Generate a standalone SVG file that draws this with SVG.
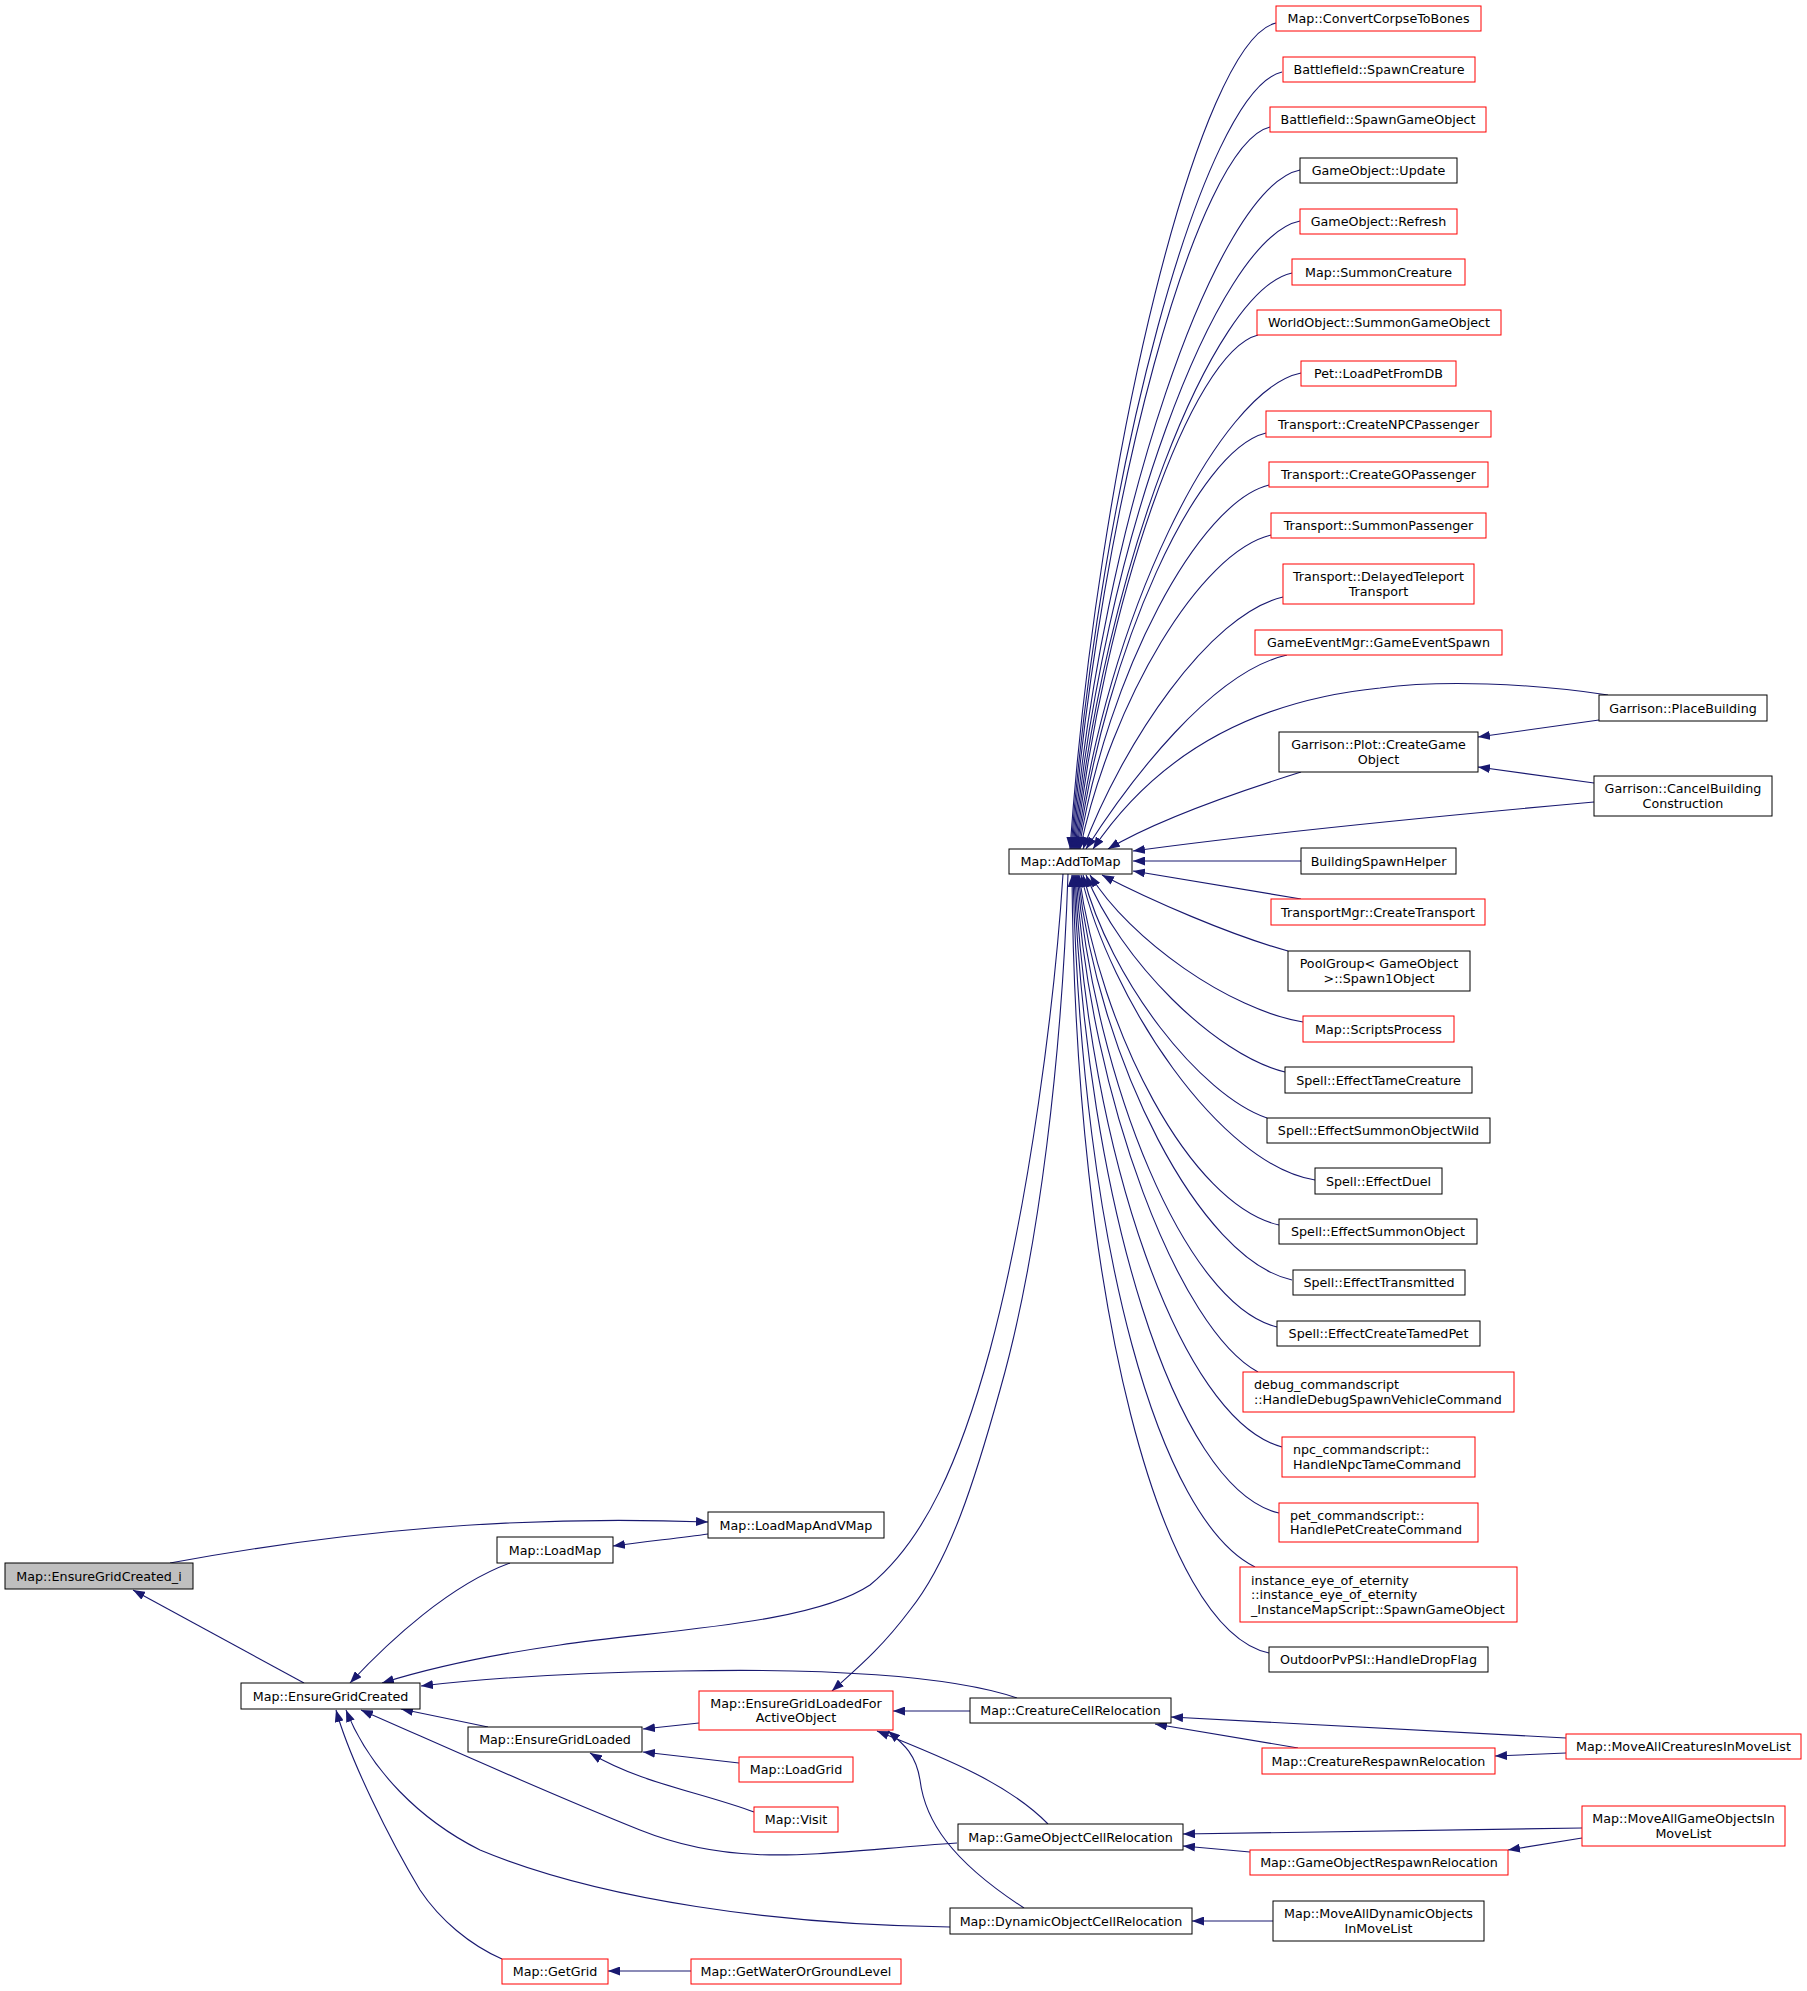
<svg xmlns="http://www.w3.org/2000/svg" width="1807" height="1991" viewBox="0 0 1807 1991">
<defs>
<style>
.n rect{fill:#fff;stroke:#000;stroke-width:1}
.n.r rect{stroke:#f00}
.n.g rect{fill:#bfbfbf}
text{font-family:"DejaVu Sans","Liberation Sans",sans-serif;font-size:12.7px;fill:#000}
.c{text-anchor:middle}
#edges path{fill:none;stroke:#191970;stroke-width:1.1;marker-end:url(#ah)}
</style>
<marker id="ah" markerUnits="userSpaceOnUse" markerWidth="12" markerHeight="9" refX="12" refY="4.5" orient="auto" viewBox="0 0 12 9"><path d="M0,0 L12,4.5 L0,9 z" fill="#191970"/></marker>
</defs>
<rect width="1807" height="1991" fill="#fff"/>
<g id="edges">
<path d="M304,1683 L133,1590"/>
<path d="M170,1563 C350,1530 520,1515 708,1522"/>
<path d="M708,1534 C680,1538 650,1541 613,1546"/>
<path d="M510,1563 C450,1585 390,1640 350,1683"/>
<path d="M1063,874 C1055,1000 1030,1200 990,1350 C960,1460 925,1540 870,1585 C810,1625 660,1630 560,1645 C490,1655 430,1668 382,1683"/>
<path d="M1017,1698 C950,1675 820,1668 680,1671 C560,1673 480,1679 421,1686"/>
<path d="M488,1727 L401,1709"/>
<path d="M957,1843 C820,1852 740,1870 640,1830 C540,1790 430,1740 361,1710"/>
<path d="M950,1927 C780,1925 600,1900 480,1850 C420,1820 370,1770 346,1710"/>
<path d="M502,1959 C470,1945 440,1920 420,1890 C390,1840 350,1760 336,1710"/>
<path d="M699,1723 L643,1729"/>
<path d="M739,1763 L643,1752"/>
<path d="M754,1812 C700,1792 640,1783 590,1753"/>
<path d="M691,1971 L608,1971"/>
<path d="M1068,874 C1062,1050 1040,1250 1000,1390 C975,1480 950,1560 910,1610 C880,1650 855,1670 832,1691"/>
<path d="M970,1711 L893,1711"/>
<path d="M1048,1824 C1010,1785 950,1760 877,1731"/>
<path d="M1024,1908 C950,1860 925,1820 920,1780 C916,1755 905,1745 888,1731"/>
<path d="M1566,1738 L1171,1717"/>
<path d="M1298,1748 L1155,1724"/>
<path d="M1566,1753 L1495,1756"/>
<path d="M1582,1828 L1183,1834"/>
<path d="M1250,1852 L1183,1846"/>
<path d="M1582,1838 L1508,1850"/>
<path d="M1273,1921 L1192,1921"/>
<path d="M1599,720 L1478,737"/>
<path d="M1594,783 L1478,767"/>
<path d="M1276,23 C1200,40 1098,453 1070,849"/>
<path d="M1282,72 C1204,89 1099,476 1071,849"/>
<path d="M1270,127 C1197,144 1100,502 1072,849"/>
<path d="M1300,170 C1216,187 1101,523 1073,849"/>
<path d="M1300,221 C1216,238 1102,548 1074,849"/>
<path d="M1292,273 C1212,290 1103,573 1075,849"/>
<path d="M1258,335 C1191,352 1104,602 1076,849"/>
<path d="M1301,373 C1218,390 1105,621 1077,849"/>
<path d="M1266,433 C1196,450 1106,649 1078,849"/>
<path d="M1269,485 C1199,502 1107,674 1079,849"/>
<path d="M1271,535 C1200,552 1112,700 1080,849"/>
<path d="M1283,597 C1209,614 1122,745 1083,849"/>
<path d="M1287,655 C1212,672 1130,780 1086,849"/>
<path d="M1608,695 C1530,683 1440,680 1380,688 C1260,700 1160,750 1093,849"/>
<path d="M1301,772 C1250,788 1160,818 1108,849"/>
<path d="M1594,802 C1450,815 1250,835 1133,851"/>
<path d="M1301,861 L1133,861"/>
<path d="M1301,899 L1133,871"/>
<path d="M1288,951 C1230,935 1150,900 1102,875"/>
<path d="M1303,1022 C1230,1010 1130,940 1090,875"/>
<path d="M1285,1072 C1215,1055 1120,960 1086,875"/>
<path d="M1267,1118 C1200,1095 1110,980 1083,875"/>
<path d="M1315,1180 C1220,1165 1110,1000 1081,875"/>
<path d="M1279,1225 C1190,1205 1100,1030 1079,875"/>
<path d="M1292,1280 C1200,1260 1098,1060 1078,875"/>
<path d="M1277,1327 C1185,1305 1095,1080 1077,875"/>
<path d="M1258,1372 C1180,1330 1090,1100 1076,875"/>
<path d="M1282,1447 C1180,1420 1088,1150 1075,875"/>
<path d="M1279,1513 C1175,1490 1086,1200 1074,875"/>
<path d="M1255,1567 C1160,1520 1082,1250 1073,875"/>
<path d="M1269,1653 C1160,1630 1075,1300 1072,875"/>
</g>
<g id="n_egci" class="n g"><rect x="5" y="1563" width="188" height="26"/><text class="c" x="99" y="1580.5">Map::EnsureGridCreated_i</text></g>
<g id="n_egc" class="n"><rect x="241" y="1683" width="179" height="26"/><text class="c" x="330.5" y="1700.5">Map::EnsureGridCreated</text></g>
<g id="n_loadmap" class="n"><rect x="497" y="1537" width="116" height="26"/><text class="c" x="555" y="1554.5">Map::LoadMap</text></g>
<g id="n_loadmapvmap" class="n"><rect x="708" y="1512" width="176" height="26"/><text class="c" x="796" y="1529.5">Map::LoadMapAndVMap</text></g>
<g id="n_addtomap" class="n"><rect x="1009" y="849" width="123" height="25"/><text class="c" x="1070.5" y="866">Map::AddToMap</text></g>
<g id="n_egl" class="n"><rect x="468" y="1727" width="174" height="25"/><text class="c" x="555" y="1744">Map::EnsureGridLoaded</text></g>
<g id="n_eglfao" class="n r"><rect x="699" y="1691" width="194" height="39"/><text class="c" x="796" y="1707.75">Map::EnsureGridLoadedFor</text><text class="c" x="796" y="1722.25">ActiveObject</text></g>
<g id="n_loadgrid" class="n r"><rect x="739" y="1757" width="114" height="25"/><text class="c" x="796" y="1774">Map::LoadGrid</text></g>
<g id="n_visit" class="n r"><rect x="754" y="1807" width="84" height="25"/><text class="c" x="796" y="1824">Map::Visit</text></g>
<g id="n_getgrid" class="n r"><rect x="502" y="1959" width="106" height="25"/><text class="c" x="555" y="1976">Map::GetGrid</text></g>
<g id="n_getwater" class="n r"><rect x="691" y="1959" width="210" height="25"/><text class="c" x="796" y="1976">Map::GetWaterOrGroundLevel</text></g>
<g id="n_ccr" class="n"><rect x="970" y="1698" width="201" height="25"/><text class="c" x="1070.5" y="1715">Map::CreatureCellRelocation</text></g>
<g id="n_gocr" class="n"><rect x="958" y="1824" width="225" height="26"/><text class="c" x="1070.5" y="1841.5">Map::GameObjectCellRelocation</text></g>
<g id="n_docr" class="n"><rect x="950" y="1908" width="242" height="26"/><text class="c" x="1071" y="1925.5">Map::DynamicObjectCellRelocation</text></g>
<g id="n_macr" class="n r"><rect x="1566" y="1734" width="235" height="25"/><text class="c" x="1683.5" y="1751">Map::MoveAllCreaturesInMoveList</text></g>
<g id="n_crr" class="n r"><rect x="1262" y="1748" width="233" height="26"/><text class="c" x="1378.5" y="1765.5">Map::CreatureRespawnRelocation</text></g>
<g id="n_mago" class="n r"><rect x="1582" y="1806" width="203" height="40"/><text class="c" x="1683.5" y="1823.25">Map::MoveAllGameObjectsIn</text><text class="c" x="1683.5" y="1837.75">MoveList</text></g>
<g id="n_gorr" class="n r"><rect x="1250" y="1850" width="258" height="25"/><text class="c" x="1379" y="1867">Map::GameObjectRespawnRelocation</text></g>
<g id="n_mado" class="n"><rect x="1273" y="1901" width="211" height="40"/><text class="c" x="1378.5" y="1918.25">Map::MoveAllDynamicObjects</text><text class="c" x="1378.5" y="1932.75">InMoveList</text></g>
<g id="n_r1" class="n r"><rect x="1276" y="6" width="205" height="25"/><text class="c" x="1378.5" y="23">Map::ConvertCorpseToBones</text></g>
<g id="n_r2" class="n r"><rect x="1283" y="57" width="192" height="25"/><text class="c" x="1379" y="74">Battlefield::SpawnCreature</text></g>
<g id="n_r3" class="n r"><rect x="1270" y="107" width="216" height="25"/><text class="c" x="1378" y="124">Battlefield::SpawnGameObject</text></g>
<g id="n_r4" class="n"><rect x="1300" y="158" width="157" height="25"/><text class="c" x="1378.5" y="175">GameObject::Update</text></g>
<g id="n_r5" class="n r"><rect x="1300" y="209" width="157" height="25"/><text class="c" x="1378.5" y="226">GameObject::Refresh</text></g>
<g id="n_r6" class="n r"><rect x="1292" y="259" width="173" height="26"/><text class="c" x="1378.5" y="276.5">Map::SummonCreature</text></g>
<g id="n_r7" class="n r"><rect x="1257" y="310" width="244" height="25"/><text class="c" x="1379" y="327">WorldObject::SummonGameObject</text></g>
<g id="n_r8" class="n r"><rect x="1301" y="361" width="155" height="25"/><text class="c" x="1378.5" y="378">Pet::LoadPetFromDB</text></g>
<g id="n_r9" class="n r"><rect x="1266" y="411" width="225" height="26"/><text class="c" x="1378.5" y="428.5">Transport::CreateNPCPassenger</text></g>
<g id="n_r10" class="n r"><rect x="1269" y="462" width="219" height="25"/><text class="c" x="1378.5" y="479">Transport::CreateGOPassenger</text></g>
<g id="n_r11" class="n r"><rect x="1271" y="513" width="215" height="25"/><text class="c" x="1378.5" y="530">Transport::SummonPassenger</text></g>
<g id="n_r12" class="n r"><rect x="1283" y="564" width="191" height="40"/><text class="c" x="1378.5" y="581.25">Transport::DelayedTeleport</text><text class="c" x="1378.5" y="595.75">Transport</text></g>
<g id="n_r13" class="n r"><rect x="1255" y="630" width="247" height="25"/><text class="c" x="1378.5" y="647">GameEventMgr::GameEventSpawn</text></g>
<g id="n_plot" class="n"><rect x="1279" y="732" width="199" height="40"/><text class="c" x="1378.5" y="749.25">Garrison::Plot::CreateGame</text><text class="c" x="1378.5" y="763.75">Object</text></g>
<g id="n_place" class="n"><rect x="1599" y="695" width="168" height="26"/><text class="c" x="1683" y="712.5">Garrison::PlaceBuilding</text></g>
<g id="n_cancel" class="n"><rect x="1594" y="776" width="178" height="40"/><text class="c" x="1683" y="793.25">Garrison::CancelBuilding</text><text class="c" x="1683" y="807.75">Construction</text></g>
<g id="n_r15" class="n"><rect x="1301" y="848" width="155" height="26"/><text class="c" x="1378.5" y="865.5">BuildingSpawnHelper</text></g>
<g id="n_r16" class="n r"><rect x="1271" y="899" width="214" height="26"/><text class="c" x="1378" y="916.5">TransportMgr::CreateTransport</text></g>
<g id="n_r17" class="n"><rect x="1288" y="951" width="182" height="40"/><text class="c" x="1379" y="968.25">PoolGroup&lt; GameObject</text><text class="c" x="1379" y="982.75">&gt;::Spawn1Object</text></g>
<g id="n_r18" class="n r"><rect x="1303" y="1016" width="151" height="26"/><text class="c" x="1378.5" y="1033.5">Map::ScriptsProcess</text></g>
<g id="n_r19" class="n"><rect x="1285" y="1067" width="187" height="26"/><text class="c" x="1378.5" y="1084.5">Spell::EffectTameCreature</text></g>
<g id="n_r20" class="n"><rect x="1267" y="1118" width="223" height="25"/><text class="c" x="1378.5" y="1135">Spell::EffectSummonObjectWild</text></g>
<g id="n_r21" class="n"><rect x="1315" y="1168" width="127" height="26"/><text class="c" x="1378.5" y="1185.5">Spell::EffectDuel</text></g>
<g id="n_r22" class="n"><rect x="1279" y="1219" width="198" height="25"/><text class="c" x="1378" y="1236">Spell::EffectSummonObject</text></g>
<g id="n_r23" class="n"><rect x="1293" y="1270" width="172" height="25"/><text class="c" x="1379" y="1287">Spell::EffectTransmitted</text></g>
<g id="n_r24" class="n"><rect x="1277" y="1321" width="203" height="25"/><text class="c" x="1378.5" y="1338">Spell::EffectCreateTamedPet</text></g>
<g id="n_r25" class="n r"><rect x="1243" y="1372" width="271" height="40"/><text x="1254" y="1389.25">debug_commandscript</text><text x="1254" y="1403.75">::HandleDebugSpawnVehicleCommand</text></g>
<g id="n_r26" class="n r"><rect x="1282" y="1437" width="193" height="40"/><text x="1293" y="1454.25">npc_commandscript::</text><text x="1293" y="1468.75">HandleNpcTameCommand</text></g>
<g id="n_r27" class="n r"><rect x="1279" y="1503" width="199" height="39"/><text x="1290" y="1519.75">pet_commandscript::</text><text x="1290" y="1534.25">HandlePetCreateCommand</text></g>
<g id="n_r28" class="n r"><rect x="1240" y="1567" width="277" height="55"/><text x="1251" y="1584.5">instance_eye_of_eternity</text><text x="1251" y="1599">::instance_eye_of_eternity</text><text x="1251" y="1613.5">_InstanceMapScript::SpawnGameObject</text></g>
<g id="n_r29" class="n"><rect x="1269" y="1647" width="219" height="25"/><text class="c" x="1378.5" y="1664">OutdoorPvPSI::HandleDropFlag</text></g>
</svg>
